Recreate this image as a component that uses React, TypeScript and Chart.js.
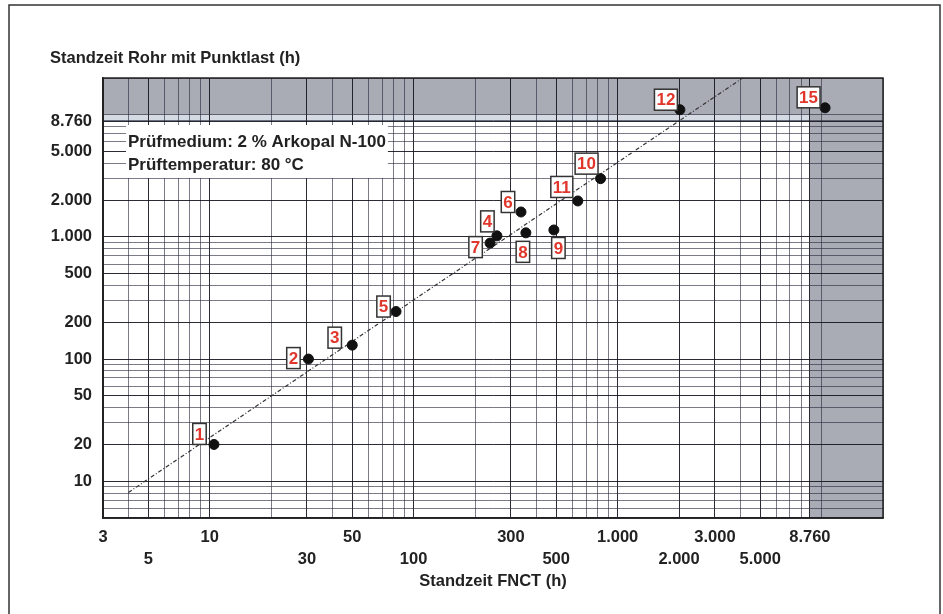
import React, { useEffect, useRef } from 'react';
import { Chart, registerables } from 'chart.js';

Chart.register(...registerables);

// ---- data ----
const POINT_IDS = ['1', '2', '3', '4', '5', '6', '7', '8', '9', '10', '11', '12', '15'];
const FNCT_HOURS = [10.5, 30.5, 50, 256, 82, 336, 237, 355, 487, 825, 638, 2020, 10400];
const PIPE_HOURS = [20, 100, 130, 1020, 245, 1600, 890, 1080, 1140, 3000, 1970, 11000, 11400];
const TREND_X = [4, 4100];
const TREND_Y = [8.1, 20000];
const X_LABELS_ROW1 = [3, 10, 50, 300, 1000, 3000, 8760];
const X_LABELS_ROW2 = [5, 30, 100, 500, 2000, 5000];
const Y_LABELS = [10, 20, 50, 100, 200, 500, 1000, 2000, 5000, 8760];
const X_RANGE = [3, 20000];
const Y_RANGE = [5, 20000];
const YEAR_HOURS = 8760;
const TEN_THOUSAND = 10000;

const TITLE = 'Standzeit Rohr mit Punktlast (h)';
const X_TITLE = 'Standzeit FNCT (h)';
const NOTE_LINES = ['Prüfmedium: 2 % Arkopal N-100', 'Prüftemperatur: 80 °C'];

// label box placement relative to each point (styling only)
const LABEL_OFFSETS: [number, number][] = [
  [-14.5, -10.5], [-15, -1], [-17.5, -7.5], [-9.5, -14.5], [-12.5, -5], [-13, -10],
  [-14.5, 4], [-3, 19], [4.5, 18], [-14, -15], [-16, -14], [-14, -10], [-16.5, -10.5],
];

const FONT = "'Liberation Sans', Arial, Helvetica, sans-serif";

function logGrid(min: number, max: number, extra: number[], skip: number[]) {
  const out: number[] = [];
  for (let d = 1; d <= 100000; d *= 10) {
    for (let m = 1; m <= 9; m++) {
      const v = m * d;
      if (v >= min && v <= max && !skip.includes(v)) out.push(v);
    }
  }
  extra.forEach((v) => { if (!out.includes(v)) out.push(v); });
  return out.sort((a, b) => a - b);
}

const X_GRID = logGrid(X_RANGE[0], X_RANGE[1], [YEAR_HOURS], [9000]);
const Y_GRID = logGrid(Y_RANGE[0], Y_RANGE[1], [YEAR_HOURS], []);

const fmt = (v: number) => String(Math.round(v)).replace(/\B(?=(\d{3})+(?!\d))/g, '.');

const decor = {
  id: 'decor',
  beforeDraw(chart: any) {
    const { ctx, chartArea: a, scales } = chart;
    const x = scales.x, y = scales.y;
    ctx.save();
    ctx.fillStyle = '#ffffff';
    ctx.fillRect(0, 0, chart.width, chart.height);
    const xYear = x.getPixelForValue(YEAR_HOURS);
    const y10k = y.getPixelForValue(TEN_THOUSAND);
    const yYear = y.getPixelForValue(YEAR_HOURS);
    ctx.fillStyle = '#d6dae2';
    ctx.fillRect(a.left, y10k, a.right - a.left, yYear - y10k);
    ctx.fillStyle = '#a9acb5';
    ctx.fillRect(a.left, a.top, a.right - a.left, y10k - a.top);
    ctx.fillRect(xYear, a.top, a.right - xYear, a.bottom - a.top);
    ctx.restore();
  },
  afterDatasetsDraw(chart: any) {
    const { ctx, chartArea: a } = chart;
    ctx.save();
    // plot frame
    ctx.strokeStyle = '#222';
    ctx.lineWidth = 1.5;
    ctx.strokeRect(a.left, a.top, a.right - a.left, a.bottom - a.top);

    // note box
    ctx.font = `bold 17px ${FONT}`;
    ctx.textBaseline = 'alphabetic';
    ctx.textAlign = 'left';
    const nx = a.left + 25;
    const w = Math.max(...NOTE_LINES.map((t) => ctx.measureText(t).width));
    ctx.fillStyle = '#ffffff';
    ctx.fillRect(nx - 2, a.top + 47, w + 4, 53);
    ctx.fillStyle = '#222';
    NOTE_LINES.forEach((t, i) => ctx.fillText(t, nx, a.top + 69 + i * 23));

    // point labels
    const meta = chart.getDatasetMeta(0);
    ctx.font = `bold 17px ${FONT}`;
    ctx.textAlign = 'center';
    ctx.textBaseline = 'middle';
    meta.data.forEach((pt: any, i: number) => {
      const [dx, dy] = LABEL_OFFSETS[i];
      const cx = pt.x + dx, cy = pt.y + dy;
      const tw = ctx.measureText(POINT_IDS[i]).width;
      const bw = tw + 4, bh = 21;
      ctx.fillStyle = '#ffffff';
      ctx.fillRect(cx - bw / 2, cy - bh / 2, bw, bh);
      ctx.strokeStyle = '#333';
      ctx.lineWidth = 1.5;
      ctx.strokeRect(cx - bw / 2, cy - bh / 2, bw, bh);
      ctx.fillStyle = '#e0362b';
      ctx.fillText(POINT_IDS[i], cx, cy + 1);
    });

    // titles
    ctx.fillStyle = '#222';
    ctx.textAlign = 'left';
    ctx.textBaseline = 'alphabetic';
    ctx.font = `bold 16.5px ${FONT}`;
    ctx.fillText(TITLE, 50, 63);
    ctx.textAlign = 'center';
    ctx.textBaseline = 'middle';
    ctx.fillText(X_TITLE, (a.left + a.right) / 2, a.bottom + 63);

    // outer frame
    ctx.strokeStyle = '#333';
    ctx.lineWidth = 1.5;
    ctx.strokeRect(9, 5, 931, 700);
    ctx.restore();
  },
};

export default function App() {
  const ref = useRef<HTMLCanvasElement | null>(null);
  useEffect(() => {
    if (!ref.current) return;
    const gridColor = (labels: number[]) => (c: any) =>
      labels.includes(c.tick?.value) ? 'rgba(20,20,30,0.9)' : 'rgba(40,42,60,0.62)';
    const chart = new Chart(ref.current, {
      type: 'scatter',
      data: {
        datasets: [
          {
            data: FNCT_HOURS.map((x, i) => ({ x, y: PIPE_HOURS[i] })),
            backgroundColor: '#111',
            borderColor: '#111',
            pointRadius: 5,
            order: 0,
          },
          {
            type: 'line',
            data: TREND_X.map((x, i) => ({ x, y: TREND_Y[i] })),
            borderColor: '#333',
            borderWidth: 1.2,
            borderDash: [4, 2, 1, 2],
            pointRadius: 0,
            fill: false,
            order: 1,
          } as any,
        ],
      },
      options: {
        responsive: false,
        animation: false,
        layout: { padding: { top: 78, right: 60, left: 0, bottom: 0 } },
        plugins: { legend: { display: false }, tooltip: { enabled: false } },
        scales: {
          x: {
            type: 'logarithmic',
            min: X_RANGE[0],
            max: X_RANGE[1],
            afterBuildTicks: (s: any) => { s.ticks = X_GRID.map((v) => ({ value: v })); },
            afterFit: (s: any) => { s.height = 96; },
            ticks: {
              autoSkip: false,
              maxRotation: 0,
              padding: 9,
              color: '#222',
              font: { family: FONT, size: 16.5, weight: 'bold', lineHeight: 1.3 },
              callback: (v: any) => {
                const n = Number(v);
                if (X_LABELS_ROW1.includes(n)) return fmt(n);
                if (X_LABELS_ROW2.includes(n)) return ['', fmt(n)];
                return '';
              },
            },
            grid: { color: gridColor([...X_LABELS_ROW1, ...X_LABELS_ROW2]), lineWidth: 1, drawTicks: false },
            border: { display: true, color: '#222', width: 1.5 },
          },
          y: {
            type: 'logarithmic',
            min: Y_RANGE[0],
            max: Y_RANGE[1],
            afterBuildTicks: (s: any) => { s.ticks = Y_GRID.map((v) => ({ value: v })); },
            afterFit: (s: any) => { s.width = 103; },
            ticks: {
              autoSkip: false,
              padding: 11,
              color: '#222',
              font: { family: FONT, size: 16.5, weight: 'bold' },
              callback: (v: any) => {
                const n = Number(v);
                return Y_LABELS.includes(n) ? fmt(n) : '';
              },
            },
            grid: { color: gridColor(Y_LABELS), lineWidth: 1, drawTicks: false },
            border: { display: true, color: '#222', width: 1.5 },
          },
        },
      } as any,
      plugins: [decor],
    });
    return () => chart.destroy();
  }, []);
  return (
    <div style={{ position: 'fixed', left: 0, top: 0, width: 943, height: 614, background: '#fff' }}>
      <canvas ref={ref} width={943} height={614} style={{ display: 'block' }} />
    </div>
  );
}
